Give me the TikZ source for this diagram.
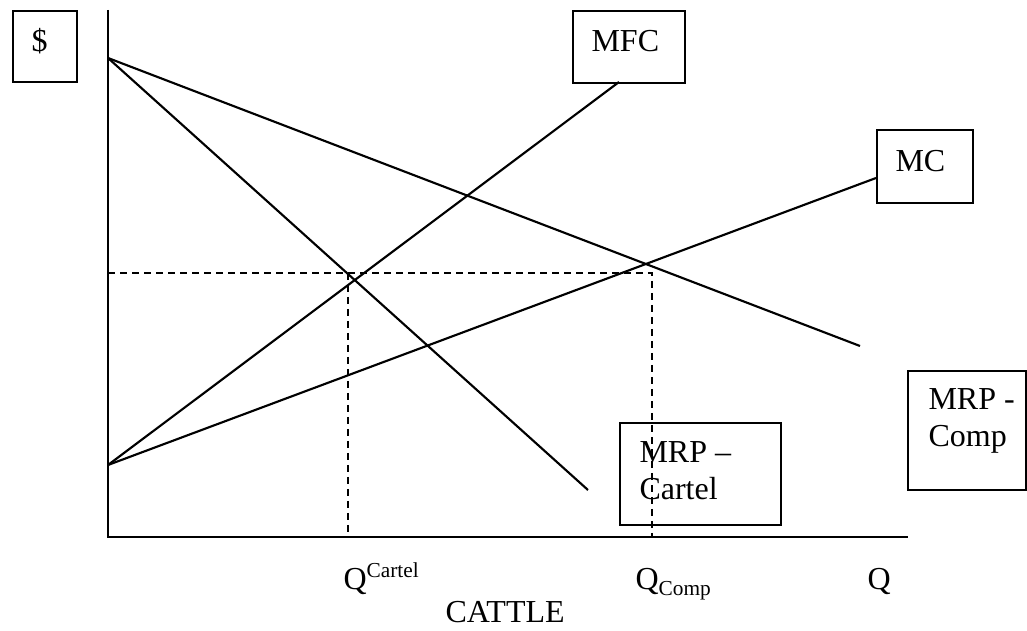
\documentclass[tikz,border=0pt]{standalone}
\usepackage{fontspec}
\setmainfont{Liberation Serif}
\begin{document}
\begin{tikzpicture}[x=0.375pt,y=-0.375pt,
  box/.style={draw,line width=0.8pt,inner sep=0pt,anchor=north west},
  curve/.style={line width=0.8pt},
  axisline/.style={line width=0.85pt},
  guide/.style={line width=0.8pt,dash pattern=on 2.6pt off 1.9pt},
  lbl/.style={inner sep=0pt,anchor=base west,font=\fontsize{12}{14}\selectfont}]
\useasboundingbox (0,0) rectangle (1027,631);

% boxes
\node[box,minimum width=24pt,minimum height=26.625pt] (dollarbox) at (12,10) {};
\node[box,minimum width=42pt,minimum height=27pt] (mfcbox) at (572,10) {};
\node[box,minimum width=36pt,minimum height=27.375pt] (mcbox) at (876,129) {};
\node[box,minimum width=60.375pt,minimum height=38.25pt] (cartelbox) at (619,422) {};
\node[box,minimum width=44.25pt,minimum height=44.625pt] (compbox) at (907,370) {};

% box texts
\node[lbl] (dollar) at (31,52) {\$};
\node[lbl] (mfc) at (591,52) {MFC};
\node[lbl] (mc) at (895,172) {MC};
\node[lbl] (cartel1) at (639,463) {MRP –};
\node[lbl] (cartel2) at (639,500) {Cartel};
\node[lbl] (comp1) at (928,410) {MRP -};
\node[lbl] (comp2) at (928,447) {Comp};

% key points
\coordinate (ytop) at (108,10);
\coordinate (O) at (108,537);
\coordinate (xend) at (908,537);
\coordinate (A) at (108,58);
\coordinate (B) at (108,465);
\coordinate (compend) at (860,346);
\coordinate (cartelend) at (588,490);
\coordinate (mfcend) at (619,82);
\coordinate (mcend) at (876,178);
\coordinate (H0) at (108,273);
\coordinate (Hc) at (348,273);
\coordinate (Hp) at (652,273);
\coordinate (Bc) at (348,537);
\coordinate (Bp) at (652,537);

% axes
\draw[axisline] (ytop) -- (O) -- (xend);

% curves
\draw[curve] (A) -- (compend);
\draw[curve] (A) -- (cartelend);
\draw[curve] (B) -- (mfcend);
\draw[curve] (B) -- (mcend);

% dashed guides
\draw[guide] (H0) -- (Hp) -- (Bp);
\draw[guide] (Hc) -- (Bc);

% axis labels
\node[lbl] (qcartel) at (343,590) {Q\raisebox{4.5pt}{\fontsize{8}{9}\selectfont Cartel}};
\node[lbl] (qcomp) at (635,590) {Q\raisebox{-2pt}{\fontsize{8}{9}\selectfont Comp}};
\node[lbl] (q) at (867,590) {Q};
\node[lbl] (cattle) at (445,623) {CATTLE};
\end{tikzpicture}
\end{document}
